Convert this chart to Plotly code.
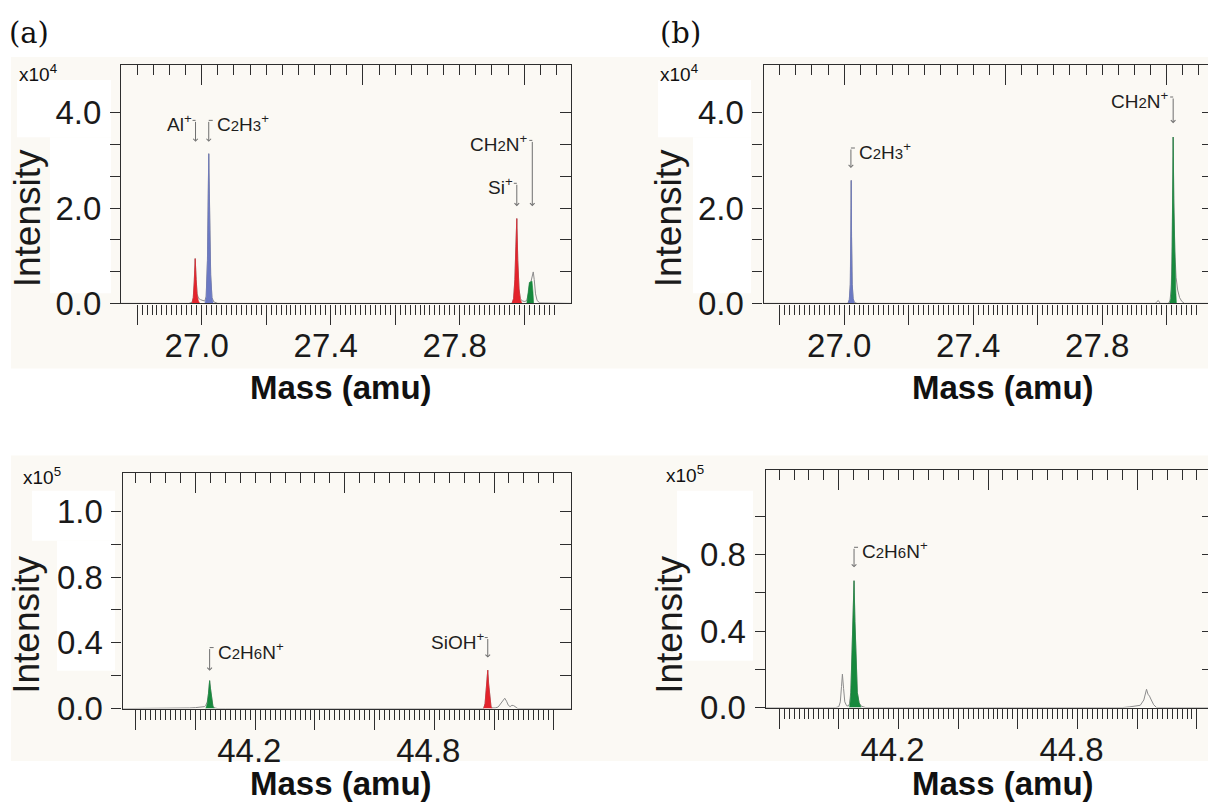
import plotly.graph_objects as go

W, H = 1208, 804
# vertical pixel scale of the page as it is displayed
H_VIEW = 784
FONT = "Liberation Sans, Arial, sans-serif"
SERIF = "DejaVu Serif, Liberation Serif, serif"
AXC = "#2e2e2e"
LW = 1.3
CREAM = "#fbf9f4"
RED = "#e3232b"
BLUE = "#6b79c3"
GREEN = "#17893d"
GRAY = "#8c8c8c"
ARROW = "#6e6e6e"

# ---------------- spectra ----------------
# (a) m/z 27-28, intensity in units of 1e4
a_raw_mass = [26.750, 26.960, 26.970, 26.974, 26.977, 26.980, 26.983, 26.986, 26.990, 26.996,
              27.004, 27.010, 27.014, 27.018, 27.022, 27.025, 27.028, 27.032, 27.038, 27.050,
              27.950, 27.962, 27.967, 27.971, 27.974, 27.977, 27.980, 27.984, 27.988, 27.994,
              28.002, 28.008, 28.013, 28.017, 28.021, 28.025, 28.028, 28.031, 28.035, 28.040,
              28.048, 28.145]
a_raw_int = [0, 0, 0.02, 0.12, 0.45, 0.94, 0.50, 0.20, 0.11, 0.08,
             0.06, 0.05, 0.15, 0.90, 3.14, 1.80, 0.60, 0.12, 0.03, 0,
             0, 0, 0.10, 0.50, 1.20, 1.78, 0.90, 0.30, 0.10, 0.05,
             0.04, 0.06, 0.22, 0.44, 0.46, 0.58, 0.66, 0.50, 0.20, 0.06,
             0.01, 0]
a_al_mass = [26.970, 26.974, 26.977, 26.980, 26.983, 26.986, 26.990, 26.994]
a_al_int = [0, 0.12, 0.45, 0.94, 0.50, 0.18, 0.05, 0]
a_c2h3_mass = [27.010, 27.014, 27.018, 27.022, 27.025, 27.028, 27.032, 27.036]
a_c2h3_int = [0, 0.12, 0.90, 3.14, 1.80, 0.60, 0.12, 0]
a_si_mass = [27.962, 27.967, 27.971, 27.974, 27.977, 27.980, 27.984, 27.988, 27.993]
a_si_int = [0, 0.10, 0.50, 1.20, 1.78, 0.90, 0.30, 0.08, 0]
a_ch2n_mass = [28.008, 28.012, 28.016, 28.020, 28.024, 28.027, 28.029]
a_ch2n_int = [0, 0.20, 0.44, 0.45, 0.47, 0.25, 0]

# (b) m/z 27-28, intensity in units of 1e4
b_raw_mass = [26.750, 27.000, 27.012, 27.016, 27.019, 27.021, 27.022, 27.023, 27.025, 27.028,
              27.032, 27.040, 27.950, 27.965, 27.970, 27.974, 27.980, 28.005, 28.010, 28.014,
              28.017, 28.019, 28.020, 28.022, 28.025, 28.029, 28.034, 28.040, 28.047, 28.055,
              28.128]
b_raw_int = [0, 0, 0, 0.08, 0.40, 1.50, 2.58, 1.40, 0.40, 0.10,
             0.02, 0, 0, 0, 0.04, 0.06, 0, 0, 0.05, 0.30,
             1.20, 2.60, 3.49, 2.20, 1.10, 0.55, 0.28, 0.12, 0.04, 0,
             0]
b_c2h3_mass = [27.012, 27.016, 27.019, 27.021, 27.022, 27.023, 27.025, 27.028, 27.032]
b_c2h3_int = [0, 0.08, 0.40, 1.50, 2.58, 1.40, 0.40, 0.10, 0]
b_ch2n_mass = [28.009, 28.013, 28.016, 28.018, 28.020, 28.022, 28.025, 28.028, 28.030]
b_ch2n_int = [0, 0.10, 0.60, 1.80, 3.49, 2.10, 0.90, 0.30, 0]

# (c) m/z 44-45, intensity in units of 1e5
c_raw_mass = [43.755, 43.950, 43.980, 44.000, 44.020, 44.030, 44.034, 44.039, 44.043, 44.047,
              44.050, 44.054, 44.058, 44.064, 44.075, 44.100, 44.950, 44.965, 44.970, 44.974,
              44.979, 44.982, 44.986, 44.990, 44.996, 45.004, 45.014, 45.022, 45.028, 45.036,
              45.042, 45.048, 45.054, 45.060, 45.066, 45.072, 45.080, 45.258]
c_raw_int = [0, 0, 0.004, 0.006, 0.010, 0.012, 0.020, 0.040, 0.090, 0.170,
             0.120, 0.050, 0.015, 0.004, 0, 0, 0, 0, 0.030, 0.120,
             0.234, 0.150, 0.050, 0.012, 0.004, 0.004, 0.010, 0.030, 0.050, 0.063,
             0.045, 0.020, 0.012, 0.020, 0.018, 0.008, 0, 0]
c_c2h6n_mass = [44.034, 44.039, 44.043, 44.047, 44.050, 44.054, 44.058, 44.063]
c_c2h6n_int = [0, 0.03, 0.09, 0.17, 0.12, 0.05, 0.015, 0]
c_sioh_mass = [44.965, 44.970, 44.974, 44.979, 44.982, 44.986, 44.990, 44.994]
c_sioh_int = [0, 0.03, 0.12, 0.234, 0.15, 0.05, 0.012, 0]

# (d) m/z 44-45, intensity in units of 1e5
d_raw_mass = [43.755, 43.990, 44.000, 44.005, 44.009, 44.012, 44.016, 44.020, 44.026, 44.032,
              44.036, 44.040, 44.044, 44.048, 44.051, 44.054, 44.058, 44.062, 44.068, 44.075,
              44.090, 44.950, 44.975, 44.995, 45.010, 45.022, 45.027, 45.031, 45.036, 45.041,
              45.047, 45.055, 45.065, 45.237]
d_raw_int = [0, 0, 0.005, 0.03, 0.11, 0.175, 0.10, 0.03, 0.01, 0.008,
             0.02, 0.08, 0.28, 0.55, 0.664, 0.45, 0.20, 0.08, 0.025, 0.008,
             0, 0, 0.004, 0.008, 0.012, 0.04, 0.07, 0.096, 0.07, 0.06,
             0.04, 0.015, 0, 0]
d_c2h6n_mass = [44.036, 44.040, 44.044, 44.048, 44.051, 44.054, 44.058, 44.062, 44.068, 44.075]
d_c2h6n_int = [0, 0.06, 0.28, 0.55, 0.664, 0.45, 0.20, 0.08, 0.025, 0]

# ---------------- tick sets ----------------
mz27_major = [26.8, 27.0, 27.2, 27.4, 27.6, 27.8, 28.0]
mz27_labels = {27.0: "27.0", 27.4: "27.4", 27.8: "27.8"}
mz27_minor = [26.8 + 0.2 * i / 13 for i in range(1, 85)]
mz27_top_major = [27.0, 27.5, 28.0]
mz27_top_minor = [round(26.8 + 0.05 * i, 2) for i in range(27)]

mz44_major = [round(43.8 + 0.2 * i, 1) for i in range(8)]
mz44_labels = {44.2: "44.2", 44.8: "44.8"}
mz44_minor = [43.8 + 0.2 * i / 12 for i in range(1, 84)]
mz44_top_major = [44.0, 44.5, 45.0]
mz44_top_minor = [round(43.8 + 0.05 * i, 2) for i in range(29)]

int4_ticks = [0, 2 / 3, 4 / 3, 2, 8 / 3, 10 / 3, 4]
int4_text = ["0.0", "", "", "2.0", "", "", "4.0"]
int5c_ticks = [0, 0.2, 0.4, 0.6, 0.8, 1.0, 1.2]
int5c_text = ["0.0", "", "0.4", "", "0.8", "", "1.0"]
int5d_ticks = [0, 0.2, 0.4, 0.6, 0.8, 1.0]
int5d_text = ["0.0", "", "0.4", "", "0.8", ""]


def X(px):
    return px / W


def Y(py):
    return 1 - py / H_VIEW


def axname(a):
    return ("xaxis" if a[0] == "x" else "yaxis") + a[1:]


def not_major(vals, major):
    return [v for v in vals if all(abs(v - m) > 1e-4 for m in major)]


fig = go.Figure()

panels = [
    dict(xa="x", ya="y", xt="x5", yt="y5", box=(121, 571, 65, 303),
         xrange=(26.75, 28.145), yrange=(0, 5.0), right_line=True,
         major=mz27_major, labels=mz27_labels, minor=mz27_minor, minor_end=28.11,
         top_major=mz27_top_major, top_minor=mz27_top_minor,
         yticks=int4_ticks, ytext=int4_text, xshift=-5),
    dict(xa="x2", ya="y2", xt="x6", yt="y6", box=(763.5, 1208, 65, 303),
         xrange=(26.75, 28.128), yrange=(0, 5.0), right_line=False,
         major=mz27_major, labels=mz27_labels, minor=mz27_minor, minor_end=28.11,
         top_major=mz27_top_major, top_minor=mz27_top_minor,
         yticks=int4_ticks, ytext=int4_text, xshift=-5),
    dict(xa="x3", ya="y3", xt="x7", yt="y7", box=(122.5, 571, 472, 707.7),
         xrange=(43.755, 45.258), yrange=(0, 1.435), right_line=True,
         major=mz44_major, labels=mz44_labels, minor=mz44_minor, minor_end=45.2,
         top_major=mz44_top_major, top_minor=mz44_top_minor,
         yticks=int5c_ticks, ytext=int5c_text, xshift=-6),
    dict(xa="x4", ya="y4", xt="x8", yt="y8", box=(765.7, 1208, 469.3, 706.7),
         xrange=(43.755, 45.237), yrange=(0, 1.244), right_line=False,
         major=mz44_major, labels=mz44_labels, minor=mz44_minor, minor_end=45.2,
         top_major=mz44_top_major, top_minor=mz44_top_minor,
         yticks=int5d_ticks, ytext=int5d_text, xshift=-6),
]

tickfont = dict(family=FONT, size=33, color="#1a1a1a")
layout_axes = {}
for p in panels:
    x0, x1, y0, y1 = p["box"]
    xdom = [X(x0), min(1.0, X(x1))]
    ydom = [Y(y1), Y(y0)]
    minor_vals = [v for v in not_major(p["minor"], p["major"]) if v <= p["minor_end"]]
    layout_axes[axname(p["xa"])] = dict(
        domain=xdom, range=list(p["xrange"]), anchor=p["ya"],
        tickmode="array", tickvals=p["major"],
        ticktext=[p["labels"].get(v, "") for v in p["major"]],
        ticks="outside", ticklen=20, tickwidth=LW, tickcolor=AXC,
        showline=True, linecolor=AXC, linewidth=LW,
        showgrid=False, zeroline=False, tickfont=tickfont,
        ticklabelshift=p["xshift"], ticklabelstandoff=-7, fixedrange=True,
        minor=dict(tickmode="array", tickvals=minor_vals,
                   ticks="outside", ticklen=10, tickwidth=LW, tickcolor=AXC,
                   showgrid=False),
    )
    layout_axes[axname(p["xt"])] = dict(
        overlaying=p["xa"], side="top", anchor=p["ya"], range=list(p["xrange"]),
        tickmode="array", tickvals=p["top_major"], showticklabels=False,
        ticks="inside", ticklen=20, tickwidth=LW, tickcolor=AXC,
        showline=True, linecolor=AXC, linewidth=LW,
        showgrid=False, zeroline=False, fixedrange=True,
        minor=dict(tickmode="array",
                   tickvals=not_major(p["top_minor"], p["top_major"]),
                   ticks="inside", ticklen=10, tickwidth=LW, tickcolor=AXC,
                   showgrid=False),
    )
    layout_axes[axname(p["ya"])] = dict(
        domain=ydom, range=list(p["yrange"]), anchor=p["xa"],
        tickmode="array", tickvals=p["yticks"], ticktext=p["ytext"],
        ticks="outside", ticklen=10, tickwidth=LW, tickcolor=AXC,
        showline=True, linecolor=AXC, linewidth=LW,
        showgrid=False, zeroline=False, tickfont=tickfont,
        ticklabelstandoff=2, fixedrange=True,
    )
    layout_axes[axname(p["yt"])] = dict(
        overlaying=p["ya"], side="right", anchor=p["xa"], range=list(p["yrange"]),
        tickmode="array", tickvals=p["yticks"], showticklabels=False,
        ticks="inside", ticklen=11 if p["right_line"] else 6,
        tickwidth=LW, tickcolor=AXC,
        showline=p["right_line"], linecolor=AXC, linewidth=LW,
        showgrid=False, zeroline=False, fixedrange=True,
    )
    # placeholders so the mirrored frame axes are rendered
    fig.add_trace(go.Scatter(x=[None], y=[None], xaxis=p["xt"], yaxis=p["ya"],
                             showlegend=False, hoverinfo="skip"))
    fig.add_trace(go.Scatter(x=[None], y=[None], xaxis=p["xa"], yaxis=p["yt"],
                             showlegend=False, hoverinfo="skip"))


def raw_line(m, v, xa, ya):
    fig.add_trace(go.Scatter(x=m, y=v, xaxis=xa, yaxis=ya, mode="lines",
                             line=dict(color=GRAY, width=1), showlegend=False,
                             hoverinfo="skip"))


def peak(m, v, color, xa, ya):
    fig.add_trace(go.Scatter(x=m, y=v, xaxis=xa, yaxis=ya, mode="lines",
                             fill="tozeroy", fillcolor=color,
                             line=dict(color=color, width=0.6),
                             showlegend=False, hoverinfo="skip"))


raw_line(a_raw_mass, a_raw_int, "x", "y")
peak(a_al_mass, a_al_int, RED, "x", "y")
peak(a_c2h3_mass, a_c2h3_int, BLUE, "x", "y")
peak(a_si_mass, a_si_int, RED, "x", "y")
peak(a_ch2n_mass, a_ch2n_int, GREEN, "x", "y")

raw_line(b_raw_mass, b_raw_int, "x2", "y2")
peak(b_c2h3_mass, b_c2h3_int, BLUE, "x2", "y2")
peak(b_ch2n_mass, b_ch2n_int, GREEN, "x2", "y2")

raw_line(c_raw_mass, c_raw_int, "x3", "y3")
peak(c_c2h6n_mass, c_c2h6n_int, GREEN, "x3", "y3")
peak(c_sioh_mass, c_sioh_int, RED, "x3", "y3")

raw_line(d_raw_mass, d_raw_int, "x4", "y4")
peak(d_c2h6n_mass, d_c2h6n_int, GREEN, "x4", "y4")

# ---------------- ion labels ----------------
SUB = "<span style='font-size:15px'>{}</span>"
ION_AL = "Al<sup>+</sup>"
ION_C2H3 = "C" + SUB.format("2") + "H" + SUB.format("3") + "<sup>+</sup>"
ION_SI = "Si<sup>+</sup>"
ION_CH2N = "CH" + SUB.format("2") + "N<sup>+</sup>"
ION_C2H6N = "C" + SUB.format("2") + "H" + SUB.format("6") + "N<sup>+</sup>"
ION_SIOH = "SiOH<sup>+</sup>"

# (text, axes, mass, arrow tip, bracket top, text side)
ion_labels = [
    (ION_AL, "x", "y", 26.981, 3.39, 3.84, "left"),
    (ION_C2H3, "x", "y", 27.022, 3.39, 3.84, "right"),
    (ION_SI, "x", "y", 27.977, 2.04, 2.52, "left"),
    (ION_CH2N, "x", "y", 28.025, 2.04, 3.42, "left"),
    (ION_C2H3, "x2", "y2", 27.021, 2.84, 3.26, "right"),
    (ION_CH2N, "x2", "y2", 28.020, 3.78, 4.33, "left"),
    (ION_C2H6N, "x3", "y3", 44.047, 0.23, 0.371, "right"),
    (ION_SIOH, "x3", "y3", 44.979, 0.31, 0.432, "left"),
    (ION_C2H6N, "x4", "y4", 44.051, 0.734, 0.839, "right"),
]

annotations = []
shapes = []
for text, xa, ya, m, tip, top, side in ion_labels:
    annotations.append(dict(
        x=m, y=tip, ax=m, ay=top, xref=xa, yref=ya, axref=xa, ayref=ya,
        text="", showarrow=True, arrowhead=4, arrowsize=0.9, arrowwidth=1,
        arrowcolor=ARROW, standoff=0, startstandoff=0))
    shapes.append(dict(
        type="line", xref=xa, yref=ya, xsizemode="pixel", xanchor=m,
        x0=0, x1=(-3 if side == "left" else 4), y0=top, y1=top,
        line=dict(color=ARROW, width=1)))
    annotations.append(dict(
        x=m, y=top, xref=xa, yref=ya, text=text, showarrow=False,
        xanchor="right" if side == "left" else "left",
        xshift=-2 if side == "left" else 6, yanchor="middle", yshift=-3,
        font=dict(family=FONT, size=19, color="#1e1e1e")))


# ---------------- panel decorations ----------------
def paper_text(text, px, py, size, family=FONT, angle=0, xanchor="center", color="#111"):
    annotations.append(dict(x=X(px), y=Y(py), xref="paper", yref="paper", text=text,
                            showarrow=False, xanchor=xanchor, yanchor="middle",
                            textangle=angle, font=dict(family=family, size=size, color=color)))


paper_text("(a)", 29, 33, 29, family=SERIF)
paper_text("(b)", 680, 33, 29, family=SERIF)
for px, py in [(341, 387), (1003, 387), (341, 783), (1003, 783)]:
    paper_text("<b>Mass (amu)</b>", px, py, 33)
for px, py in [(27, 218), (668, 218), (27, 624), (670, 624)]:
    paper_text("Intensity", px, py, 37, angle=-90, color="#1a1a1a")
paper_text("x10<sup>4</sup>", 17, 73, 19, xanchor="left")
paper_text("x10<sup>4</sup>", 658, 73, 19, xanchor="left")
paper_text("x10<sup>5</sup>", 21, 475, 19, xanchor="left")
paper_text("x10<sup>5</sup>", 664, 473, 19, xanchor="left")

# cream backgrounds of the two panel rows, with white patches behind the labels
for x0, x1, y0, y1, col in [
    (11, 1208, 57, 368, CREAM), (11, 1208, 455, 760, CREAM),
    (17, 111, 80, 137, "white"), (50, 111, 137, 293, "white"),
    (658, 751, 80, 137, "white"), (693, 751, 137, 293, "white"),
    (32, 115, 490, 540, "white"), (57, 115, 540, 670, "white"),
    (677, 753, 490, 660, "white"),
]:
    shapes.append(dict(type="rect", xref="paper", yref="paper", layer="below",
                       x0=X(x0), x1=X(x1), y0=Y(y1), y1=Y(y0),
                       fillcolor=col, line=dict(width=0)))

fig.update_layout(
    width=W, height=H, autosize=False,
    margin=dict(l=0, r=0, t=0, b=0, pad=0),
    paper_bgcolor="white", plot_bgcolor=CREAM,
    showlegend=False, annotations=annotations, shapes=shapes,
    **layout_axes,
)

fig.write_html("out.html", config={"responsive": False})
